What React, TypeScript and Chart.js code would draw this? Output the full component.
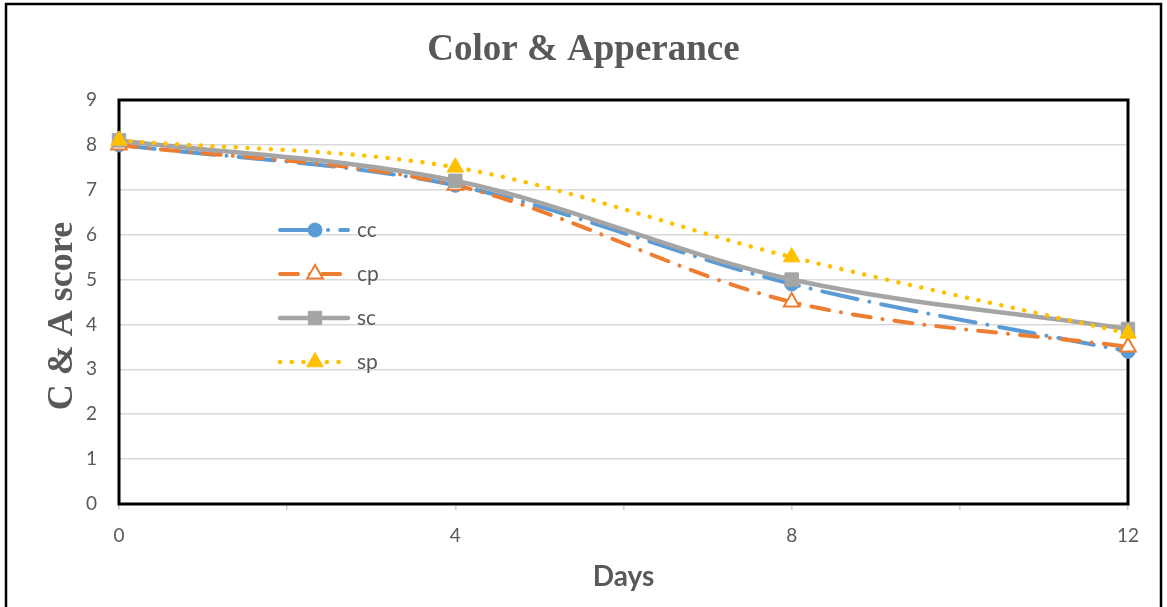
import React, { useEffect, useRef } from "react";
import { Chart, registerables } from "chart.js";

Chart.register(...registerables);

const days = [0, 4, 8, 12];
const seriesNames = ["cc", "cp", "sc", "sp"];
const cc = [8.0, 7.1, 4.9, 3.4];
const cp = [8.0, 7.1, 4.5, 3.5];
const sc = [8.1, 7.2, 5.0, 3.9];
const sp = [8.1, 7.5, 5.5, 3.8];
const yTicks = [0, 1, 2, 3, 4, 5, 6, 7, 8, 9];
const xLabelTicks = [0, 4, 8, 12];
const yTitle = "C & A score";

const BLUE = "#5B9BD5";
const ORANGE = "#ED7D31";
const GRAY = "#A5A5A5";
const YELLOW = "#FFC000";
const TEXT = "#595959";

function drawMarker(ctx: CanvasRenderingContext2D, style: string, x: number, y: number, r: number, fill: string, stroke: string, bw: number) {
  ctx.save();
  ctx.setLineDash([]);
  ctx.beginPath();
  if (style === "circle") {
    ctx.arc(x, y, r, 0, Math.PI * 2);
  } else if (style === "triangle") {
    for (let i = 0; i < 3; i++) {
      const a = (i * 2 * Math.PI) / 3;
      const px = x + Math.sin(a) * r;
      const py = y - Math.cos(a) * r;
      if (i === 0) ctx.moveTo(px, py);
      else ctx.lineTo(px, py);
    }
    ctx.closePath();
  } else {
    const s = r * Math.SQRT1_2;
    ctx.rect(x - s, y - s, 2 * s, 2 * s);
  }
  ctx.fillStyle = fill;
  ctx.fill();
  ctx.lineWidth = bw;
  ctx.strokeStyle = stroke;
  ctx.stroke();
  ctx.restore();
}

const framePlugin = {
  id: "frame",
  beforeDraw(chart: any) {
    const ctx = chart.ctx;
    ctx.save();
    ctx.fillStyle = "#fff";
    ctx.fillRect(0, 0, chart.width, chart.height);
    ctx.strokeStyle = "#000";
    ctx.lineWidth = 2.5;
    ctx.strokeRect(6, 4, chart.width - 12, chart.height + 20);
    ctx.restore();
  },
  beforeDatasetsDraw(chart: any) {
    const { ctx, chartArea } = chart;
    ctx.save();
    ctx.strokeStyle = "#000";
    ctx.lineWidth = 3;
    ctx.strokeRect(chartArea.left, chartArea.top, chartArea.right - chartArea.left, chartArea.bottom - chartArea.top);
    // y axis title
    ctx.translate(63, chartArea.top + 216);
    ctx.rotate(-Math.PI / 2);
    ctx.fillStyle = TEXT;
    ctx.font = "bold 36px 'Liberation Serif', serif";
    ctx.textAlign = "center";
    ctx.textBaseline = "middle";
    ctx.fillText(yTitle, 0, 0);
    ctx.restore();
  },
  afterDatasetsDraw(chart: any) {
    const { ctx, chartArea } = chart;
    const x0 = chartArea.left + 161;
    const x1 = chartArea.left + 229;
    const xm = chartArea.left + 196;
    chart.data.datasets.forEach((ds: any, i: number) => {
      const y = chartArea.top + 130 + i * 44;
      ctx.save();
      ctx.beginPath();
      ctx.setLineDash(ds.borderDash || []);
      ctx.lineCap = ds.borderCapStyle || "butt";
      ctx.lineWidth = ds.borderWidth;
      ctx.strokeStyle = ds.borderColor;
      ctx.moveTo(x0, y);
      ctx.lineTo(x1, y);
      ctx.stroke();
      ctx.restore();
      drawMarker(ctx, ds.pointStyle, xm, y, ds.pointRadius, ds.pointBackgroundColor, ds.pointBorderColor, ds.pointBorderWidth);
      ctx.save();
      ctx.fillStyle = TEXT;
      ctx.font = "21px Lato";
      ctx.textBaseline = "middle";
      ctx.textAlign = "left";
      ctx.fillText(ds.label, x1 + 9, y);
      ctx.restore();
    });
  },
};

export default function App() {
  const ref = useRef<HTMLCanvasElement | null>(null);
  useEffect(() => {
    if (!ref.current) return;
    const mk = (v: number[]) => days.map((d, i) => ({ x: d, y: v[i] }));
    const chart = new Chart(ref.current, {
      type: "line",
      data: {
        datasets: [
          {
            label: seriesNames[0],
            data: mk(cc),
            borderColor: BLUE,
            borderWidth: 4,
            borderDash: [36, 12, 0.1, 12],
            borderCapStyle: "round",
            pointStyle: "circle",
            pointRadius: 7,
            pointBackgroundColor: BLUE,
            pointBorderColor: BLUE,
            pointBorderWidth: 1,
            tension: 0.33,
            order: 4,
            clip: false,
          },
          {
            label: seriesNames[1],
            data: mk(cp),
            borderColor: ORANGE,
            borderWidth: 4,
            borderDash: [18, 12, 0.1, 12],
            borderCapStyle: "round",
            pointStyle: "triangle",
            pointRadius: 9,
            pointBackgroundColor: "#fff",
            pointBorderColor: ORANGE,
            pointBorderWidth: 2,
            tension: 0.33,
            order: 3,
            clip: false,
          },
          {
            label: seriesNames[2],
            data: mk(sc),
            borderColor: GRAY,
            borderWidth: 4.5,
            borderCapStyle: "round",
            pointStyle: "rect",
            pointRadius: 9.5,
            pointBackgroundColor: GRAY,
            pointBorderColor: GRAY,
            pointBorderWidth: 1,
            tension: 0.33,
            order: 2,
            clip: false,
          },
          {
            label: seriesNames[3],
            data: mk(sp),
            borderColor: YELLOW,
            borderWidth: 4.5,
            borderDash: [0.1, 11.6],
            borderCapStyle: "round",
            pointStyle: "triangle",
            pointRadius: 9.5,
            pointBackgroundColor: YELLOW,
            pointBorderColor: YELLOW,
            pointBorderWidth: 1,
            tension: 0.33,
            order: 1,
            clip: false,
          },
        ] as any,
      },
      options: {
        animation: false,
        responsive: true,
        maintainAspectRatio: false,
        layout: { padding: 0 },
        plugins: {
          legend: { display: false },
          tooltip: { enabled: false },
          title: {
            display: true,
            text: "Color & Apperance",
            color: TEXT,
            font: { family: "'Liberation Serif', serif", size: 37, weight: "bold", lineHeight: 1.2 },
            padding: { top: 28, bottom: 27.6 },
          },
        },
        scales: {
          x: {
            type: "linear",
            min: 0,
            max: 12,
            afterFit: (s: any) => {
              s.height = 103;
            },
            ticks: {
              stepSize: 2,
              autoSkip: false,
              maxRotation: 0,
              color: TEXT,
              font: { family: "Lato", size: 19 },
              padding: 14,
              callback: (v: any) => (xLabelTicks.includes(Number(v)) ? String(v) : ""),
            },
            grid: {
              drawOnChartArea: false,
              drawTicks: true,
              tickLength: 6,
              color: "#d0d0d0",
              lineWidth: 1.5,
            },
            border: { display: true, color: "#bfbfbf", width: 1 },
            title: {
              display: true,
              text: "Days",
              color: TEXT,
              font: { family: "Lato", size: 28, weight: "bold", lineHeight: 1.2 },
              padding: { top: 0, bottom: 13 },
            },
          },
          y: {
            min: 0,
            max: 9,
            afterFit: (s: any) => {
              s.width = 119;
            },
            afterBuildTicks: (s: any) => {
              s.ticks = yTicks.map((v) => ({ value: v }));
            },
            ticks: {
              color: TEXT,
              font: { family: "Lato", size: 19 },
              padding: 22,
            },
            grid: {
              drawTicks: false,
              color: "#d9d9d9",
              lineWidth: 1.5,
            },
            border: { display: false },
          },
          yRight: {
            position: "right",
            display: true,
            min: 0,
            max: 9,
            afterFit: (s: any) => {
              s.width = 39;
            },
            ticks: { display: false },
            grid: { display: false, drawTicks: false },
            border: { display: false },
          },
        },
      } as any,
      plugins: [framePlugin],
    });
    return () => chart.destroy();
  }, []);
  return (
    <div style={{ position: "absolute", left: 0, top: 0, width: 1167, height: 607 }}>
      <canvas ref={ref} />
    </div>
  );
}
